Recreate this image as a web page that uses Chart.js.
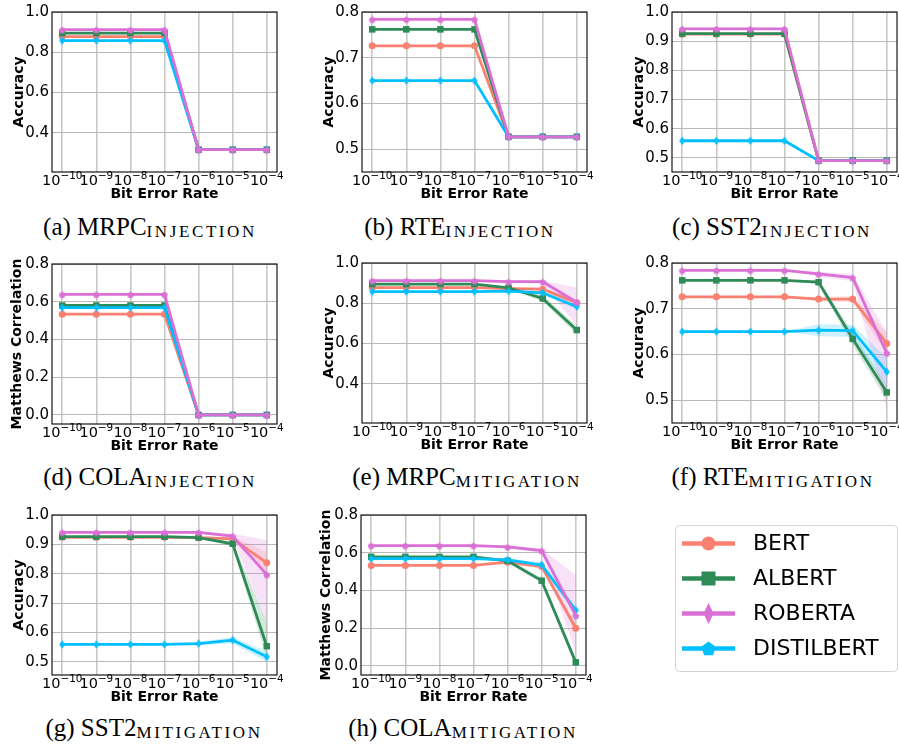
<!DOCTYPE html>
<html>
<head>
<meta charset="utf-8">
<script src="https://cdn.jsdelivr.net/npm/chart.js@4.4.1/dist/chart.umd.min.js"></script>
<style>
  html, body { margin: 0; padding: 0; background: #fff; width: 899px; height: 751px; overflow: hidden; }
  #fig { position: relative; width: 899px; height: 751px; overflow: hidden; }
  #fig canvas { position: absolute; }
  .cap { position: absolute; white-space: nowrap; font-family: 'Liberation Serif', 'DejaVu Serif', serif;
         font-size: 25px; line-height: 25px; color: #000; transform: translateX(-50%); }
  .cap .sc { font-size: 17px; letter-spacing: 2.6px; position: relative; top: 2px; }
</style>
</head>
<body>
<div id="fig"></div>
<script>
// ---- shared axis data ----
const berIndex = [0, 1, 2, 3, 4, 5, 6];
const berBase = '10';
const berExponents = ['−10', '−9', '−8', '−7', '−6', '−5', '−4'];
const models = ['BERT', 'ALBERT', 'ROBERTA', 'DISTILBERT'];
const modelColors = ['#FA8072', '#2E8B57', '#DA70D6', '#00BFFF'];

const ticksAccWide = [0.4, 0.6, 0.8, 1.0];
const ticksAccRte = [0.5, 0.6, 0.7, 0.8];
const ticksAccSst = [0.5, 0.6, 0.7, 0.8, 0.9, 1.0];
const ticksMcc = [0.0, 0.2, 0.4, 0.6, 0.8];

// ---- (a) MRPC, fault injection ----
const mrpcInjBert    = [0.878, 0.878, 0.878, 0.878, 0.316, 0.316, 0.316];
const mrpcInjAlbert  = [0.895, 0.895, 0.895, 0.895, 0.316, 0.316, 0.316];
const mrpcInjRoberta = [0.912, 0.912, 0.912, 0.912, 0.316, 0.316, 0.316];
const mrpcInjDistil  = [0.858, 0.858, 0.858, 0.858, 0.316, 0.316, 0.316];

// ---- (b) RTE, fault injection ----
const rteInjBert    = [0.726, 0.726, 0.726, 0.726, 0.527, 0.527, 0.527];
const rteInjAlbert  = [0.762, 0.762, 0.762, 0.762, 0.527, 0.527, 0.527];
const rteInjRoberta = [0.784, 0.784, 0.784, 0.784, 0.527, 0.527, 0.527];
const rteInjDistil  = [0.650, 0.650, 0.650, 0.650, 0.527, 0.527, 0.527];

// ---- (c) SST2, fault injection ----
const sstInjBert    = [0.924, 0.924, 0.924, 0.924, 0.491, 0.491, 0.491];
const sstInjAlbert  = [0.926, 0.926, 0.926, 0.926, 0.491, 0.491, 0.491];
const sstInjRoberta = [0.942, 0.942, 0.942, 0.942, 0.491, 0.491, 0.491];
const sstInjDistil  = [0.559, 0.559, 0.559, 0.559, 0.491, 0.491, 0.491];

// ---- (d) COLA, fault injection ----
const colaInjBert    = [0.534, 0.534, 0.534, 0.534, 0.0, 0.0, 0.0];
const colaInjAlbert  = [0.580, 0.580, 0.580, 0.580, 0.0, 0.0, 0.0];
const colaInjRoberta = [0.639, 0.639, 0.639, 0.639, 0.0, 0.0, 0.0];
const colaInjDistil  = [0.569, 0.569, 0.569, 0.569, 0.0, 0.0, 0.0];

// ---- (e) MRPC, with mitigation (mean, band low, band high) ----
const mrpcMitBert    = [0.878, 0.878, 0.878, 0.878, 0.873, 0.870, 0.803];
const mrpcMitAlbert  = [0.895, 0.895, 0.895, 0.895, 0.877, 0.824, 0.667];
const mrpcMitRoberta = [0.912, 0.912, 0.912, 0.912, 0.907, 0.907, 0.805];
const mrpcMitDistil  = [0.858, 0.858, 0.858, 0.858, 0.860, 0.852, 0.783];
const mrpcLoBert    = [null, null, null, null, 0.866, 0.862, 0.790];
const mrpcHiBert    = [null, null, null, null, 0.878, 0.878, 0.815];
const mrpcLoAlbert  = [null, null, null, null, 0.868, 0.810, 0.645];
const mrpcHiAlbert  = [null, null, null, null, 0.884, 0.838, 0.688];
const mrpcLoRoberta = [null, null, null, null, 0.900, 0.898, 0.688];
const mrpcHiRoberta = [null, null, null, null, 0.912, 0.912, 0.878];
const mrpcLoDistil  = [null, null, null, null, 0.855, 0.842, 0.770];
const mrpcHiDistil  = [null, null, null, null, 0.865, 0.862, 0.795];

// ---- (f) RTE, with mitigation ----
const rteMitBert    = [0.726, 0.726, 0.726, 0.726, 0.721, 0.721, 0.624];
const rteMitAlbert  = [0.762, 0.762, 0.762, 0.762, 0.758, 0.634, 0.517];
const rteMitRoberta = [0.784, 0.784, 0.784, 0.784, 0.776, 0.768, 0.603];
const rteMitDistil  = [0.650, 0.650, 0.650, 0.650, 0.653, 0.652, 0.562];
const rteLoBert    = [null, null, null, null, 0.716, 0.714, 0.600];
const rteHiBert    = [null, null, null, null, 0.726, 0.728, 0.648];
const rteLoAlbert  = [null, null, null, null, 0.753, 0.620, 0.500];
const rteHiAlbert  = [null, null, null, null, 0.763, 0.648, 0.532];
const rteLoRoberta = [null, null, null, null, 0.770, 0.760, 0.480];
const rteHiRoberta = [null, null, null, null, 0.781, 0.776, 0.648];
const rteLoDistil  = [null, null, null, null, 0.640, 0.638, 0.530];
const rteHiDistil  = [null, null, null, null, 0.666, 0.665, 0.592];

// ---- (g) SST2, with mitigation ----
const sstMitBert    = [0.924, 0.924, 0.924, 0.924, 0.923, 0.919, 0.837];
const sstMitAlbert  = [0.926, 0.926, 0.926, 0.926, 0.923, 0.902, 0.553];
const sstMitRoberta = [0.941, 0.941, 0.941, 0.941, 0.941, 0.928, 0.797];
const sstMitDistil  = [0.559, 0.559, 0.559, 0.559, 0.562, 0.574, 0.517];
const sstLoBert    = [null, null, null, null, 0.921, 0.912, 0.800];
const sstHiBert    = [null, null, null, null, 0.925, 0.926, 0.875];
const sstLoAlbert  = [null, null, null, null, 0.920, 0.893, 0.510];
const sstHiAlbert  = [null, null, null, null, 0.926, 0.910, 0.640];
const sstLoRoberta = [null, null, null, null, 0.938, 0.920, 0.640];
const sstHiRoberta = [null, null, null, null, 0.944, 0.936, 0.915];
const sstLoDistil  = [null, null, null, null, 0.556, 0.562, 0.500];
const sstHiDistil  = [null, null, null, null, 0.568, 0.584, 0.536];

// ---- (h) COLA, with mitigation ----
const colaMitBert    = [0.533, 0.533, 0.533, 0.533, 0.550, 0.527, 0.200];
const colaMitAlbert  = [0.578, 0.578, 0.578, 0.578, 0.557, 0.452, 0.019];
const colaMitRoberta = [0.638, 0.638, 0.638, 0.638, 0.631, 0.611, 0.267];
const colaMitDistil  = [0.569, 0.569, 0.569, 0.569, 0.562, 0.535, 0.295];
const colaLoBert    = [null, null, null, null, 0.540, 0.515, 0.180];
const colaHiBert    = [null, null, null, null, 0.560, 0.538, 0.222];
const colaLoAlbert  = [null, null, null, null, 0.545, 0.438, 0.000];
const colaHiAlbert  = [null, null, null, null, 0.568, 0.466, 0.040];
const colaLoRoberta = [null, null, null, null, 0.622, 0.598, 0.070];
const colaHiRoberta = [null, null, null, null, 0.640, 0.622, 0.480];
const colaLoDistil  = [null, null, null, null, 0.552, 0.522, 0.272];
const colaHiDistil  = [null, null, null, null, 0.572, 0.548, 0.318];

// ---- panel layout ----
const panels = [
  { tag: '(a)', task: 'MRPC', sub: 'INJECTION',  x: 52,  y: 12,  cx: 150, capTop: 214, ylabel: 'Accuracy', ymin: 0.205, ymax: 1.0, yticks: ticksAccWide,
    mean: [mrpcInjBert, mrpcInjAlbert, mrpcInjRoberta, mrpcInjDistil] },
  { tag: '(b)', task: 'RTE',  sub: 'INJECTION',  x: 362, y: 12,  cx: 460, capTop: 214, ylabel: 'Accuracy', ymin: 0.45, ymax: 0.8, yticks: ticksAccRte,
    mean: [rteInjBert, rteInjAlbert, rteInjRoberta, rteInjDistil] },
  { tag: '(c)', task: 'SST2', sub: 'INJECTION',  x: 672, y: 12,  cx: 772, capTop: 214, ylabel: 'Accuracy', ymin: 0.452, ymax: 1.0, yticks: ticksAccSst,
    mean: [sstInjBert, sstInjAlbert, sstInjRoberta, sstInjDistil] },
  { tag: '(d)', task: 'COLA', sub: 'INJECTION',  x: 52,  y: 264, cx: 150, capTop: 464, ylabel: 'Matthews Correlation', ymin: -0.048, ymax: 0.8, yticks: ticksMcc, titlePad: 8.6,
    mean: [colaInjBert, colaInjAlbert, colaInjRoberta, colaInjDistil] },
  { tag: '(e)', task: 'MRPC', sub: 'MITIGATION', x: 362, y: 263, cx: 467, capTop: 464, ylabel: 'Accuracy', ymin: 0.205, ymax: 1.0, yticks: ticksAccWide,
    mean: [mrpcMitBert, mrpcMitAlbert, mrpcMitRoberta, mrpcMitDistil],
    lo: [mrpcLoBert, mrpcLoAlbert, mrpcLoRoberta, mrpcLoDistil], hi: [mrpcHiBert, mrpcHiAlbert, mrpcHiRoberta, mrpcHiDistil] },
  { tag: '(f)', task: 'RTE',  sub: 'MITIGATION', x: 672, y: 263, cx: 773, capTop: 464, ylabel: 'Accuracy', ymin: 0.45, ymax: 0.8, yticks: ticksAccRte,
    mean: [rteMitBert, rteMitAlbert, rteMitRoberta, rteMitDistil],
    lo: [rteLoBert, rteLoAlbert, rteLoRoberta, rteLoDistil], hi: [rteHiBert, rteHiAlbert, rteHiRoberta, rteHiDistil] },
  { tag: '(g)', task: 'SST2', sub: 'MITIGATION', x: 52,  y: 515, cx: 154, capTop: 715, ylabel: 'Accuracy', ymin: 0.455, ymax: 1.0, yticks: ticksAccSst,
    mean: [sstMitBert, sstMitAlbert, sstMitRoberta, sstMitDistil],
    lo: [sstLoBert, sstLoAlbert, sstLoRoberta, sstLoDistil], hi: [sstHiBert, sstHiAlbert, sstHiRoberta, sstHiDistil] },
  { tag: '(h)', task: 'COLA', sub: 'MITIGATION', x: 361, y: 515, cx: 463, capTop: 715, ylabel: 'Matthews Correlation', ymin: -0.048, ymax: 0.8, yticks: ticksMcc, titlePad: 8.6,
    mean: [colaMitBert, colaMitAlbert, colaMitRoberta, colaMitDistil],
    lo: [colaLoBert, colaLoAlbert, colaLoRoberta, colaLoDistil], hi: [colaHiBert, colaHiAlbert, colaHiRoberta, colaHiDistil] }
];

const AXW = 225, AXH = 160, PADL = 52, PADT = 8, PADR = 8, PADB = 36;
const FONT = "'DejaVu Sans', sans-serif";

Chart.defaults.font.family = FONT;
Chart.defaults.color = '#000';
Chart.defaults.animation = false;

// ---- marker images ----
function markerImage(shape, w, h, color) {
  const c = document.createElement('canvas');
  c.width = Math.ceil(w) + 2; c.height = Math.ceil(h) + 2;
  const g = c.getContext('2d');
  const cx = c.width / 2, cy = c.height / 2;
  g.fillStyle = color;
  g.beginPath();
  if (shape === 'thinDiamond') {
    g.moveTo(cx, cy - h / 2); g.lineTo(cx + w / 2, cy); g.lineTo(cx, cy + h / 2); g.lineTo(cx - w / 2, cy);
  } else {
    for (let k = 0; k < 5; k++) {
      const a = -Math.PI / 2 + k * 2 * Math.PI / 5;
      const px = cx + (w / 2) * Math.cos(a), py = cy + 0.5 + (h / 2) * Math.sin(a);
      if (k === 0) g.moveTo(px, py); else g.lineTo(px, py);
    }
  }
  g.closePath(); g.fill();
  return c;
}
const plotMarkers = [
  { style: 'circle', radius: 3.5 },
  { style: 'rect', radius: 4.6 },
  { style: markerImage('pentagon', 7.2, 7.2, modelColors[2]), radius: 3 },
  { style: markerImage('thinDiamond', 6, 8.4, modelColors[3]), radius: 3 }
];

function rgba(hex, a) {
  const n = parseInt(hex.slice(1), 16);
  return `rgba(${(n >> 16) & 255},${(n >> 8) & 255},${n & 255},${a})`;
}
const toPts = arr => arr.map((v, i) => ({ x: berIndex[i], y: v }));

// black box around each axes area
const framePlugin = {
  id: 'frame',
  afterDatasetsDraw(chart) {
    const { ctx, chartArea: a } = chart;
    ctx.save();
    ctx.strokeStyle = '#000';
    ctx.lineWidth = 1.1;
    ctx.strokeRect(a.left, a.top, a.right - a.left, a.bottom - a.top);
    ctx.restore();
  }
};

// x tick labels written as powers of ten with a raised exponent
const powerTickPlugin = {
  id: 'powerTicks',
  afterDraw(chart) {
    const s = chart.scales.x, ctx = chart.ctx;
    const baseline = s.top + 13;
    const baseFont = `14.5px ${FONT}`, expFont = `10.4px ${FONT}`;
    ctx.save();
    ctx.fillStyle = '#000';
    ctx.textBaseline = 'alphabetic';
    ctx.textAlign = 'left';
    s.ticks.forEach(t => {
      const i = berIndex.indexOf(t.value);
      if (i < 0) return;
      const px = s.getPixelForValue(t.value);
      ctx.font = baseFont;
      const w1 = ctx.measureText(berBase).width;
      ctx.font = expFont;
      const w2 = ctx.measureText(berExponents[i]).width;
      const x0 = px - (w1 + w2) / 2;
      ctx.font = baseFont;
      ctx.fillText(berBase, x0, baseline);
      ctx.font = expFont;
      ctx.fillText(berExponents[i], x0 + w1, baseline - 5.6);
    });
    ctx.restore();
  }
};

const fig = document.getElementById('fig');

panels.forEach(p => {
  const cv = document.createElement('canvas');
  cv.width = PADL + AXW + PADR; cv.height = PADT + AXH + PADB;
  cv.style.left = (p.x - PADL) + 'px';
  cv.style.top = (p.y - PADT) + 'px';
  fig.appendChild(cv);

  // drawing order: ROBERTA on top, then DISTILBERT, ALBERT, BERT
  const drawOrder = [2, 3, 1, 0];
  const datasets = drawOrder.map(m => ({
    label: models[m],
    data: toPts(p.mean[m]),
    borderColor: modelColors[m],
    backgroundColor: modelColors[m],
    borderWidth: 2.8,
    pointStyle: plotMarkers[m].style,
    pointRadius: plotMarkers[m].radius,
    pointBorderWidth: 0,
    pointBackgroundColor: modelColors[m],
    tension: 0,
    fill: false
  }));
  if (p.lo) {
    drawOrder.forEach(m => {
      const hi = p.hi[m].map((v, i) => v ?? p.mean[m][i]);
      const lo = p.lo[m].map((v, i) => v ?? p.mean[m][i]);
      datasets.push({ data: toPts(hi), borderWidth: 0, pointRadius: 0, fill: false });
      datasets.push({ data: toPts(lo), borderWidth: 0, pointRadius: 0, fill: '-1',
                      backgroundColor: rgba(modelColors[m], 0.2) });
    });
  }

  new Chart(cv, {
    type: 'line',
    data: { datasets },
    options: {
      responsive: false,
      devicePixelRatio: 1,
      animation: false,
      events: [],
      layout: { padding: { left: 0, top: PADT, right: PADR, bottom: 0 } },
      plugins: { legend: { display: false }, tooltip: { enabled: false } },
      scales: {
        x: {
          type: 'linear', min: -0.3, max: 6.3,
          afterBuildTicks: s => { s.ticks = berIndex.map(v => ({ value: v })); },
          afterFit: s => { s.height = PADB; s.paddingLeft = 0; s.paddingRight = 0; },
          ticks: { display: false, callback: v => berBase + berExponents[v] },
          grid: { color: '#c8c8c8', lineWidth: 1.6, drawTicks: false },
          border: { display: false },
          title: { display: true, text: 'Bit Error Rate', font: { size: 14, weight: 'bold' }, color: '#000',
                   padding: { top: 0, bottom: 5.4 } }
        },
        y: {
          min: p.ymin, max: p.ymax,
          afterBuildTicks: s => { s.ticks = p.yticks.map(v => ({ value: v })); },
          afterFit: s => { s.width = PADL; s.paddingTop = 0; s.paddingBottom = 0; },
          ticks: { callback: v => v.toFixed(1), font: { size: 15 }, color: '#000', padding: 3 },
          grid: { color: '#b8b8b8', lineWidth: 1, drawTicks: false },
          border: { display: false },
          title: { display: true, text: p.ylabel, font: { size: 14, weight: 'bold' }, color: '#000',
                   padding: { top: p.titlePad ?? 11.4, bottom: 0 } }
        }
      }
    },
    plugins: [framePlugin, powerTickPlugin]
  });

  const cap = document.createElement('div');
  cap.className = 'cap';
  cap.style.left = p.cx + 'px';
  cap.style.top = p.capTop + 'px';
  cap.innerHTML = `${p.tag} ${p.task}<span class="sc">${p.sub}</span>`;
  fig.appendChild(cap);
});

// ---- legend ----
const legendMarkers = ['circle', 'square', 'thinDiamond', 'pentagon'];
const legendPlugin = {
  id: 'legendBox',
  afterDraw(chart) {
    const ctx = chart.ctx;
    ctx.save();
    // rounded frame
    const bx = 15.5, by = 10.5, bw = 222, bh = 146, r = 4;
    ctx.beginPath();
    ctx.moveTo(bx + r, by); ctx.lineTo(bx + bw - r, by); ctx.arcTo(bx + bw, by, bx + bw, by + r, r);
    ctx.lineTo(bx + bw, by + bh - r); ctx.arcTo(bx + bw, by + bh, bx + bw - r, by + bh, r);
    ctx.lineTo(bx + r, by + bh); ctx.arcTo(bx, by + bh, bx, by + bh - r, r);
    ctx.lineTo(bx, by + r); ctx.arcTo(bx, by, bx + r, by, r);
    ctx.closePath();
    ctx.fillStyle = 'rgba(255,255,255,0.8)'; ctx.fill();
    ctx.strokeStyle = '#d4d4d4'; ctx.lineWidth = 1; ctx.stroke();

    chart.data.datasets.forEach((ds, i) => {
      const y = 28.5 + i * 35;
      ctx.strokeStyle = ds.borderColor; ctx.lineWidth = 4.6; ctx.lineCap = 'butt';
      ctx.beginPath(); ctx.moveTo(22, y); ctx.lineTo(75, y); ctx.stroke();
      ctx.fillStyle = ds.borderColor;
      const mx = 48.5;
      ctx.beginPath();
      switch (ds.legendMarker) {
        case 'circle': ctx.arc(mx, y, 7, 0, Math.PI * 2); break;
        case 'square': ctx.rect(mx - 7, y - 7, 14, 14); break;
        case 'thinDiamond':
          ctx.moveTo(mx, y - 10.5); ctx.lineTo(mx + 5, y); ctx.lineTo(mx, y + 10.5); ctx.lineTo(mx - 5, y); break;
        default:
          for (let k = 0; k < 5; k++) {
            const a = -Math.PI / 2 + k * 2 * Math.PI / 5;
            const px = mx + 7.6 * Math.cos(a), py = y + 0.6 + 7.6 * Math.sin(a);
            if (k === 0) ctx.moveTo(px, py); else ctx.lineTo(px, py);
          }
      }
      ctx.closePath(); ctx.fill();
      ctx.fillStyle = '#000';
      ctx.font = `22px ${FONT}`;
      ctx.textBaseline = 'middle';
      ctx.textAlign = 'left';
      ctx.fillText(ds.label, 93, y + 1);
    });
    ctx.restore();
  }
};

const lc = document.createElement('canvas');
lc.width = 239; lc.height = 170;
lc.style.left = '660px'; lc.style.top = '515px';
fig.appendChild(lc);
new Chart(lc, {
  type: 'line',
  data: { datasets: models.map((m, i) => ({ label: m, data: [], borderColor: modelColors[i], legendMarker: legendMarkers[i] })) },
  options: {
    responsive: false, devicePixelRatio: 1, animation: false, events: [],
    plugins: { legend: { display: false }, tooltip: { enabled: false } },
    scales: { x: { display: false }, y: { display: false } }
  },
  plugins: [legendPlugin]
});
</script>
</body>
</html>
